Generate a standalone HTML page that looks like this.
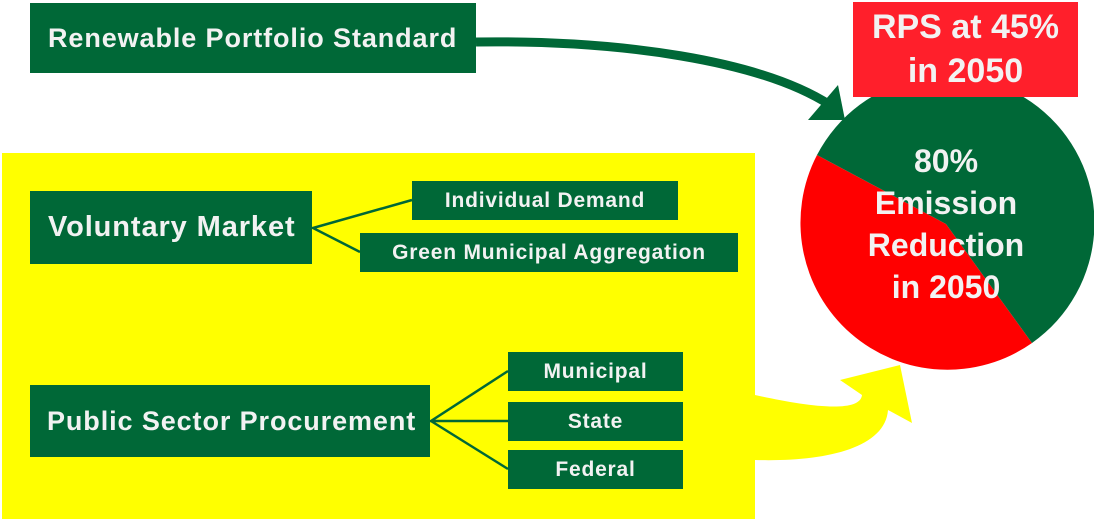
<!DOCTYPE html>
<html><head><style>
body{margin:0;width:1094px;height:519px;background:#fff;overflow:hidden;position:relative;font-family:"Liberation Sans",sans-serif;font-weight:bold}
.b{position:absolute;background:#006837;color:#f2f2f2;display:flex;align-items:center;box-sizing:border-box;white-space:nowrap}
.s{font-size:21px;letter-spacing:0.8px}
.l{font-size:27px;letter-spacing:0.9px}
</style></head><body>
<div style="position:absolute;left:2px;top:153px;width:753px;height:366px;background:#ffff00"></div>
<svg width="1094" height="519" style="position:absolute;left:0;top:0">
<path d="M476,42 C620,40 760,60 830,105" fill="none" stroke="#006837" stroke-width="9"/>
<polygon points="808,120 838,85 845,120" fill="#006837"/>
<path d="M946,224 L817,155 A147,147 0 0,0 1032,343 Z" fill="#ff0000"/>
<path d="M946,224 L817,155 A147,147 0 1,1 1032,343 Z" fill="#006837"/>
<path d="M755,395 C800,405 860,415 862,395 L840,380 L900,365 L912,423 L888,410 C885,450 820,462 755,460 Z" fill="#ffff00"/>
<g stroke="#006837" stroke-width="2.5" fill="none">
<path d="M412,200 L313,228 L360,252"/>
<path d="M508,371 L431,421 L508,421 M431,421 L508,469"/>
</g>
</svg>
<div class="b l" style="left:30px;top:3px;width:446px;height:70px;padding-left:18px">Renewable Portfolio Standard</div>
<div style="position:absolute;left:853px;top:2px;width:225px;height:95px;background:#ff1f2b;color:#f2f2f2;font-size:34px;text-align:center;line-height:44px;padding-top:3px;box-sizing:border-box">RPS at 45%<br>in 2050</div>
<div style="position:absolute;left:836px;top:140px;width:220px;text-align:center;color:#f2f2f2;font-size:32px;line-height:42px">80%<br>Emission<br>Reduction<br>in 2050</div>
<div class="b l" style="left:30px;top:191px;width:282px;height:73px;padding-left:18px;font-size:29px">Voluntary Market</div>
<div class="b s" style="left:412px;top:181px;width:266px;height:39px;justify-content:center">Individual Demand</div>
<div class="b s" style="left:360px;top:233px;width:378px;height:39px;justify-content:center">Green Municipal Aggregation</div>
<div class="b l" style="left:30px;top:385px;width:400px;height:72px;padding-left:17px">Public Sector Procurement</div>
<div class="b s" style="left:508px;top:352px;width:175px;height:39px;justify-content:center">Municipal</div>
<div class="b s" style="left:508px;top:402px;width:175px;height:39px;justify-content:center">State</div>
<div class="b s" style="left:508px;top:450px;width:175px;height:39px;justify-content:center">Federal</div>
</body></html>
